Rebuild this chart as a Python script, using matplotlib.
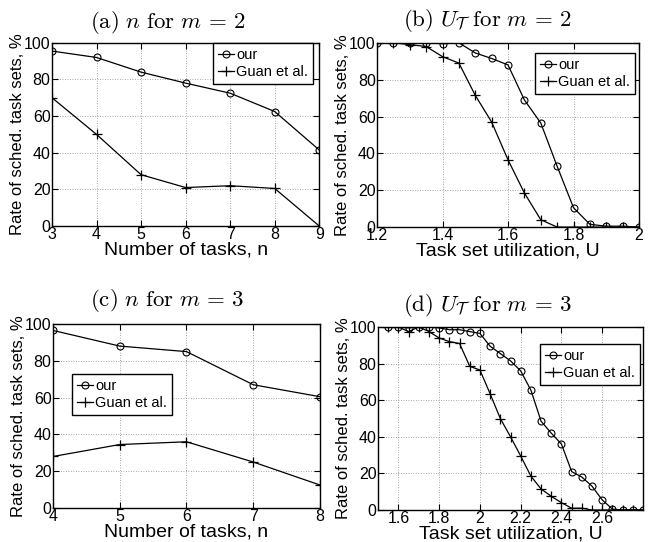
import matplotlib
matplotlib.use("Agg")
import matplotlib.pyplot as plt
import numpy as np

plt.rcParams['font.family'] = ['Liberation Sans', 'DejaVu Sans']
plt.rcParams['mathtext.fontset'] = 'cm'

# (a) n for m=2
a_n = [3, 4, 5, 6, 7, 8, 9]
a_our = [95.5, 92, 84, 78, 72.5, 62.5, 41.5]
a_guan = [70, 50, 28, 21, 22, 20.5, 0]

# (b) U for m=2
b_u = [1.2, 1.25, 1.3, 1.35, 1.4, 1.45, 1.5, 1.55, 1.6, 1.65, 1.7, 1.75, 1.8, 1.85, 1.9, 1.95, 2.0]
b_our = [100, 100, 100, 100, 99.5, 100, 94.5, 91.5, 88, 69, 56.5, 33, 10.5, 1.5, 0.5, 0.5, 0]
b_guan = [100, 100, 99, 98, 92.5, 89, 71.5, 57, 36.5, 18.5, 4, 0, 0, 0, 0, 0, 0]

# (c) n for m=3
c_n = [4, 5, 6, 7, 8]
c_our = [96.5, 88, 85, 67, 60.5]
c_guan = [28, 34.5, 36, 25, 12.5]

# (d) U for m=3
d_u = [1.55, 1.6, 1.65, 1.7, 1.75, 1.8, 1.85, 1.9, 1.95, 2.0, 2.05, 2.1, 2.15, 2.2, 2.25,
       2.3, 2.35, 2.4, 2.45, 2.5, 2.55, 2.6, 2.65, 2.7, 2.75, 2.8]
d_our = [100, 100, 99.5, 100, 100, 99.5, 98.5, 98.5, 97.5, 96.5, 89.5, 85.5, 81.5, 76, 65.5,
         48.5, 42, 36, 21, 18, 13, 5.5, 0.5, 0, 0, 0]
d_guan = [100, 100, 97.5, 100, 97.5, 94, 92, 91, 78.5, 76.5, 63.5, 50, 40, 29.5, 18.5,
          11.5, 7.5, 4, 1, 1, 0, 0, 0, 0, 0, 0]

titles = [r'$\mathrm{(a)}\ n\ \mathrm{for}\ m\,=\,2$',
          r'$\mathrm{(b)}\ U_{\mathcal{T}}\ \mathrm{for}\ m\,=\,2$',
          r'$\mathrm{(c)}\ n\ \mathrm{for}\ m\,=\,3$',
          r'$\mathrm{(d)}\ U_{\mathcal{T}}\ \mathrm{for}\ m\,=\,3$']
title_pads = [11, 12, 13, 11.5]
title_x = [0.433, 0.42, 0.427, 0.415]

fig = plt.figure(figsize=(6.55, 5.42), dpi=100)
positions = [
    [0.0794, 0.583, 0.408, 0.338],
    [0.5756, 0.581, 0.400, 0.340],
    [0.0809, 0.0627, 0.4076, 0.3395],
    [0.5771, 0.059, 0.4046, 0.3377],
]

datasets = [
    (a_n, a_our, a_guan, (3, 9), [3, 4, 5, 6, 7, 8, 9], ['3', '4', '5', '6', '7', '8', '9'],
     'Number of tasks, n', dict(loc='upper right', bbox_to_anchor=(0.977, 1.0))),
    (b_u, b_our, b_guan, (1.2, 2.0), [1.2, 1.4, 1.6, 1.8, 2.0], ['1.2', '1.4', '1.6', '1.8', '2'],
     'Task set utilization, U', dict(loc='upper right', bbox_to_anchor=(0.985, 0.946))),
    (c_n, c_our, c_guan, (4, 8), [4, 5, 6, 7, 8], ['4', '5', '6', '7', '8'],
     'Number of tasks, n', dict(loc='lower left', bbox_to_anchor=(0.071, 0.505))),
    (d_u, d_our, d_guan, (1.5, 2.8), [1.6, 1.8, 2.0, 2.2, 2.4, 2.6], ['1.6', '1.8', '2', '2.2', '2.4', '2.6'],
     'Task set utilization, U', dict(loc='upper right', bbox_to_anchor=(0.989, 0.907))),
]

for pos, title, tpad, tx, (x, our, guan, xlim, xt, xtl, xlabel, legkw) in zip(
        positions, titles, title_pads, title_x, datasets):
    ax = fig.add_axes(pos)
    ax.plot(x, our, '-o', color='black', lw=0.9, ms=5, mfc='none', mew=0.8, label='our')
    ax.plot(x, guan, '-+', color='black', lw=0.9, ms=6.5, mew=0.9, label='Guan et al.')
    ax.set_xlim(*xlim)
    ax.set_ylim(0, 100)
    ax.set_xticks(xt)
    ax.set_xticklabels(xtl)
    ax.set_yticks([0, 20, 40, 60, 80, 100])
    ax.grid(True, linestyle=(0, (1, 2)), color='#888888', linewidth=0.6)
    ax.tick_params(direction='in', top=True, right=True, labelsize=11.5, length=4, pad=1, colors='black')
    for sp in ax.spines.values():
        sp.set_linewidth(1.0)
        sp.set_color('black')
    ax.set_xlabel(xlabel, fontsize=14, labelpad=-1)
    ax.set_ylabel('Rate of sched. task sets, %', fontsize=12, labelpad=-1)
    ax.set_title(title, fontsize=16.5, pad=tpad, x=tx)
    leg = ax.legend(fontsize=10.5, frameon=True, fancybox=False, edgecolor='black',
                    handlelength=1.1, handletextpad=0.15, borderpad=0.35, labelspacing=0.2,
                    borderaxespad=0, framealpha=1, **legkw)
    leg.get_frame().set_linewidth(1.0)

fig.savefig('out.png', dpi=100)
